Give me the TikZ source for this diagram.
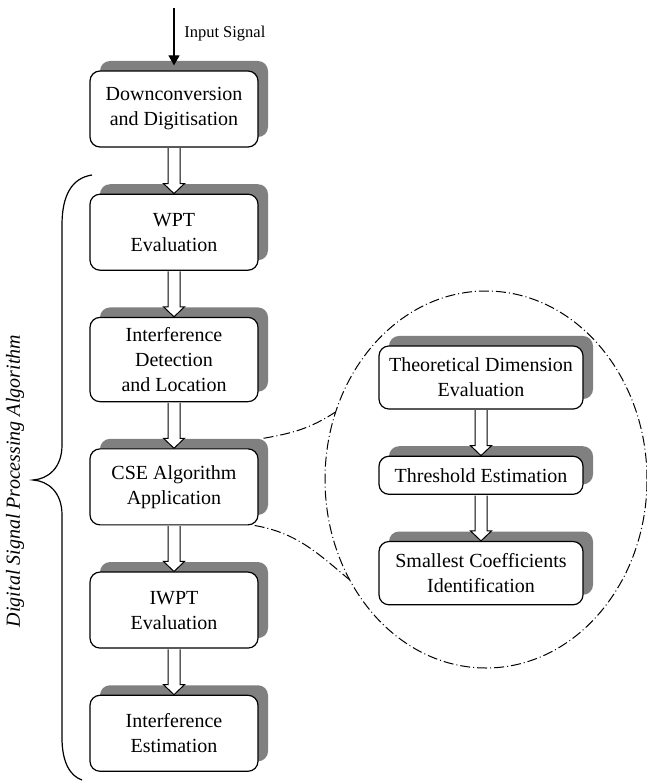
\documentclass[tikz,border=0pt]{standalone}
\usepackage{fontspec}
\setmainfont{Liberation Serif}
\usepackage{tikz}
\usetikzlibrary{shapes.geometric,arrows.meta,positioning,calc,shadows}
% hollow block arrow from the bottom of #1 to the top of #2
\newcommand{\flowarrow}[2]{%
  \draw[fill=white,line width=0.5pt] ($(#1.south)+(-3pt,-0.3pt)$) -- ($(#2.north)+(-3pt,5pt)$)
    -- ($(#2.north)+(-5.25pt,5pt)$) -- (#2.north) -- ($(#2.north)+(5.25pt,5pt)$)
    -- ($(#2.north)+(3pt,5pt)$) -- ($(#1.south)+(3pt,-0.3pt)$);}

\begin{document}
\begin{tikzpicture}[x=0.5pt,y=0.5pt,node distance=23pt]
  \tikzstyle{stage}=[rectangle,draw,line width=0.6pt,rounded corners=5pt,fill=white,minimum width=84pt,minimum height=38pt,inner ysep=5pt,align=center,font=\fontsize{10}{12.5}\selectfont,drop shadow={shadow xshift=5pt,shadow yshift=5pt,fill=black!50,opacity=1}]
  \tikzstyle{substage}=[stage,minimum width=102pt,minimum height=0pt,inner ysep=6pt]
  \tikzstyle{zoomline}=[line width=0.5pt,dash pattern=on 5pt off 1.5pt on 0.5pt off 1.5pt]
  \useasboundingbox (0,0) rectangle (647,-781);
  % main chain
  \node[stage] (dc) at (174,-109) {Downconversion\\and Digitisation};
  \node[stage,below=of dc] (wpt) {WPT\\Evaluation};
  \node[stage,below=of wpt] (det) {Interference\\Detection\\and Location};
  \node[stage,below=of det] (cse) {CSE Algorithm\\Application};
  \node[stage,below=of cse] (iwpt) {IWPT\\Evaluation};
  \node[stage,below=of iwpt] (est) {Interference\\Estimation};
  % CSE detail
  \node[zoomline,draw,ellipse,inner sep=0pt,minimum width=161pt,minimum height=188.5pt] (zoomell) at (486,-479.5) {};
  \node[substage] (dim) at (481,-377.5) {Theoretical Dimension\\Evaluation};
  \node[substage,below=of dim] (thr) {Threshold Estimation};
  \node[substage,below=of thr] (coef) {Smallest Coefficients\\Identification};
  \draw[zoomline] ([shift={(2.5pt,5pt)}]cse.north east) to[out=10,in=213] (zoomell.156);
  \draw[zoomline] ([xshift=-2pt]cse.south east) to[out=-10,in=140] (zoomell.216);
  % arrows
  \coordinate[above=31pt of dc.north] (sig);
  \draw[line width=0.6pt,-{Triangle[length=5pt,width=5.5pt]}] (sig) -- ([yshift=2.5pt]dc.north)
    node[pos=0.45,right,xshift=1.5pt,font=\fontsize{8.25}{10}\selectfont] {Input Signal};
  \foreach \a/\b in {dc/wpt,wpt/det,det/cse,cse/iwpt,iwpt/est,dim/thr,thr/coef}
    \flowarrow{\a}{\b};
  % brace and its label
  \draw[line width=0.6pt] (92,-175) .. controls (72,-178) and (62,-195) .. (62,-225) -- (62,-445)
    .. controls (62,-468) and (48,-479) .. (33,-480) .. controls (48,-481) and (62,-492) .. (62,-515)
    -- (62,-738) .. controls (62,-762) and (70,-776) .. (82,-780);
  \node[rotate=90,font=\itshape\fontsize{10}{12.5}\selectfont] (dspa) at (15,-481) {Digital Signal Processing Algorithm};
\end{tikzpicture}
\end{document}
